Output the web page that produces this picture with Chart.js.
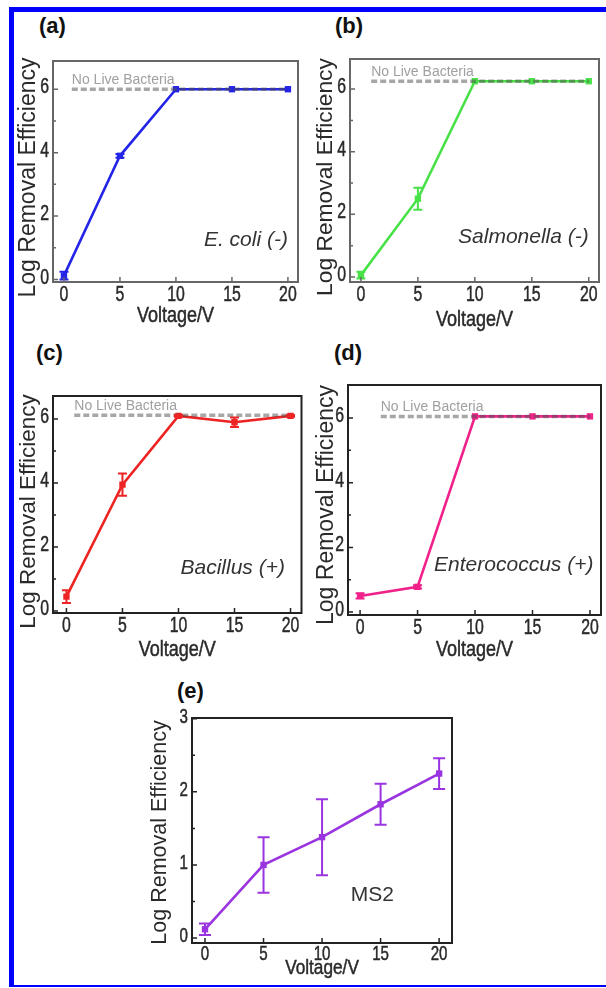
<!DOCTYPE html>
<html>
<head>
<meta charset="utf-8">
<title>Log Removal Efficiency vs Voltage</title>
<script src="https://cdn.jsdelivr.net/npm/chart.js@4.4.1/dist/chart.umd.min.js"></script>
<style>
    html, body { margin: 0; padding: 0; background: #fff; }
    body { width: 606px; height: 988px; position: relative; overflow: hidden; font-family: "Liberation Sans", Arial, sans-serif; }
    #marco {
        position: absolute; left: 9px; top: 7px; width: 620px; height: 980px; box-sizing: border-box;
        border-top: 5px solid #0000ff; border-left: 5px solid #0000ff; border-bottom: 2px solid #0000ff;
    }
    canvas { position: absolute; }
    .letra { position: absolute; font: bold 22px "Liberation Sans", Arial, sans-serif; line-height: 22px; color: #111; }
</style>
</head>
<body>
<div id="marco"></div>
<script>
// datos
const voltage = [0, 5, 10, 15, 20];

const ecoliLRE = [0.12, 3.9, 6.0, 6.0, 6.0];
const ecoliErr = [0.12, 0.06, 0, 0, 0];
const salmonellaLRE = [0.06, 2.5, 6.25, 6.25, 6.25];
const salmonellaErr = [0.11, 0.35, 0, 0, 0];
const bacillusLRE = [0.45, 3.95, 6.1, 5.9, 6.1];
const bacillusErr = [0.2, 0.35, 0.03, 0.15, 0.03];
const enterococcusLRE = [0.5, 0.78, 6.05, 6.05, 6.05];
const enterococcusErr = [0.08, 0.05, 0, 0, 0];
const ms2LRE = [0.12, 1.0, 1.38, 1.83, 2.25];
const ms2Err = [0.08, 0.38, 0.52, 0.28, 0.21];

const noLiveLevel = [6.0, 6.25, 6.12, 6.05];
const noLiveStart = [0.7, 0.9, 0.7, 1.8];
const noLiveEnd = 20;

const xTickValues = [0, 5, 10, 15, 20];
const yTicksBacteria = [0, 2, 4, 6];
const yTicksVirus = [0, 1, 2, 3];

const organisms = ['E. coli (-)', 'Salmonella (-)', 'Bacillus (+)', 'Enterococcus (+)', 'MS2'];
const panelLetters = ['(a)', '(b)', '(c)', '(d)', '(e)'];
const seriesValues = [ecoliLRE, salmonellaLRE, bacillusLRE, enterococcusLRE, ms2LRE];
const seriesErrors = [ecoliErr, salmonellaErr, bacillusErr, enterococcusErr, ms2Err];
const seriesColors = ['#2424e8', '#48e248', '#ee2424', '#f0228a', '#9a34e0'];

const SANS = "'Liberation Sans', Arial, sans-serif";

// posiciones en pixeles de pagina (canvas y area de trazado)
const layouts = [
    { canvas: [14, 46, 306, 334], area: [53, 61, 298, 282], x: [-0.98, 20.9], y: [-0.08, 6.89], yTitleX: 29, yTitleDy: 6, yTitleSize: 23,
      xTickGap: 13, xTitleGap: 34, tickSize: 22, letter: [40, 18], frame: '#666', label: [20, 1.25], italic: true, yTicks: yTicksBacteria, minorY: 1 },
    { canvas: [309, 46, 606, 334], area: [350, 59, 599, 282], x: [-0.96, 20.9], y: [-0.16, 6.96], yTitleX: 325.5, yTitleDy: 6.5, yTitleSize: 22.8,
      xTickGap: 12.5, xTitleGap: 37.5, tickSize: 22, letter: [336, 18], frame: '#666', label: [20, 1.28], italic: true, yTicks: yTicksBacteria, minorY: 1 },
    { canvas: [14, 383, 306, 668], area: [53, 396, 302, 613], x: [-1.2, 20.98], y: [-0.06, 6.72], yTitleX: 29, yTitleDy: 7, yTitleSize: 22.5,
      xTickGap: 13, xTitleGap: 37, tickSize: 22, letter: [37, 345], frame: '#222', label: [19.5, 1.34], italic: true, yTicks: yTicksBacteria, minorY: 1 },
    { canvas: [309, 372, 606, 668], area: [348, 385, 601, 615], x: [-1.05, 20.96], y: [-0.09, 7.02], yTitleX: 327, yTitleDy: 5, yTitleSize: 23,
      xTickGap: 13, xTitleGap: 35, tickSize: 22, letter: [335, 345], frame: '#222', label: [20.3, 1.45], italic: true, yTicks: yTicksBacteria, minorY: 1 },
    { canvas: [140, 705, 470, 985], area: [192, 718, 452, 943], x: [-1.11, 21.1], y: [-0.068, 3.01], yTitleX: 160, yTitleDy: 2, yTitleSize: 21.5,
      xTickGap: 11, xTitleGap: 25, tickSize: 21, letter: [178, 683], frame: '#222', label: [14.3, 0.59], italic: false, yTicks: yTicksVirus, minorY: 0.5 }
];

// texto "estrecho": la figura usa una fuente condensada que no esta instalada
function textoEstrecho(ctx, txt, x, y, size, align, escala) {
    ctx.save();
    ctx.font = size + 'px ' + SANS;
    ctx.textAlign = align;
    ctx.textBaseline = 'middle';
    ctx.translate(x, y);
    ctx.scale(escala, 1);
    ctx.fillText(txt, 0, 0);
    ctx.lineWidth = 0.5;
    ctx.strokeText(txt, 0, 0);
    ctx.restore();
}

// barras de error, marcas hacia dentro, marco y textos
const panelDecor = {
    id: 'panelDecor',
    afterDatasetsDraw(chart, args, opts) {
        const { ctx, chartArea: a, scales: { x, y } } = chart;
        ctx.save();

        chart.data.datasets.forEach(ds => {
            if (!ds.errors) return;
            ctx.strokeStyle = ds.borderColor;
            ctx.lineWidth = 2;
            ds.data.forEach((p, j) => {
                const e = ds.errors[j];
                if (!e) return;
                const px = x.getPixelForValue(p.x);
                const y1 = y.getPixelForValue(p.y + e);
                const y2 = y.getPixelForValue(p.y - e);
                ctx.beginPath();
                ctx.moveTo(px, y1); ctx.lineTo(px, y2);
                ctx.moveTo(px - opts.cap, y1); ctx.lineTo(px + opts.cap, y1);
                ctx.moveTo(px - opts.cap, y2); ctx.lineTo(px + opts.cap, y2);
                ctx.stroke();
            });
        });

        ctx.strokeStyle = opts.frame;
        ctx.lineWidth = 1.5;
        ctx.beginPath();
        x.ticks.forEach(t => {
            const px = x.getPixelForValue(t.value);
            ctx.moveTo(px, a.bottom); ctx.lineTo(px, a.bottom - 5);
        });
        for (let v = opts.yTicks[0]; v <= opts.yTicks[opts.yTicks.length - 1] + 1e-9; v += opts.minorY) {
            const py = y.getPixelForValue(v);
            const major = opts.yTicks.some(t => Math.abs(t - v) < 1e-9);
            ctx.moveTo(a.left, py); ctx.lineTo(a.left + (major ? 5 : 3), py);
        }
        ctx.stroke();

        ctx.lineWidth = 2;
        ctx.strokeRect(a.left, a.top, a.right - a.left, a.bottom - a.top);

        // etiquetas de los ejes
        ctx.fillStyle = '#2a2a2a';
        ctx.strokeStyle = '#2a2a2a';
        x.ticks.forEach(t => {
            textoEstrecho(ctx, String(t.value), x.getPixelForValue(t.value), a.bottom + opts.xTickGap, opts.tickSize, 'center', 0.72);
        });
        y.ticks.forEach(t => {
            textoEstrecho(ctx, String(t.value), a.left - 4, y.getPixelForValue(t.value) - 2, opts.tickSize, 'right', 0.72);
        });
        textoEstrecho(ctx, 'Voltage/V', (a.left + a.right) / 2, a.bottom + opts.xTitleGap, opts.tickSize, 'center', 0.82);

        // titulo vertical
        ctx.save();
        ctx.translate(opts.yTitleX, (a.top + a.bottom) / 2 + opts.yTitleDy);
        ctx.rotate(-Math.PI / 2);
        ctx.font = opts.yTitleSize + 'px ' + SANS;
        ctx.textAlign = 'center';
        ctx.textBaseline = 'middle';
        ctx.fillText('Log Removal Efficiency', 0, 0);
        ctx.restore();

        if (opts.noLive) {
            ctx.fillStyle = '#a0a0a0';
            ctx.font = '14px ' + SANS;
            ctx.textAlign = 'left';
            ctx.textBaseline = 'alphabetic';
            ctx.fillText('No Live Bacteria', x.getPixelForValue(opts.noLive.start), y.getPixelForValue(opts.noLive.level) - 5);
        }

        ctx.fillStyle = '#333';
        ctx.font = (opts.italic ? 'italic ' : '') + '21px ' + SANS;
        ctx.textAlign = opts.italic ? 'right' : 'center';
        ctx.textBaseline = 'middle';
        ctx.fillText(opts.organism, x.getPixelForValue(opts.label[0]), y.getPixelForValue(opts.label[1]));

        ctx.restore();
    }
};

function crearPanel(i) {
    const lay = layouts[i];
    const [cl, ct, cr, cb] = lay.canvas;
    const [al, at, ar, ab] = lay.area;
    const w = cr - cl, h = cb - ct;

    const canvas = document.createElement('canvas');
    canvas.width = w;
    canvas.height = h;
    canvas.style.left = cl + 'px';
    canvas.style.top = ct + 'px';
    canvas.style.width = w + 'px';
    canvas.style.height = h + 'px';
    document.body.appendChild(canvas);

    const letra = document.createElement('div');
    letra.className = 'letra';
    letra.textContent = panelLetters[i];
    letra.style.left = (lay.letter[0] - 1) + 'px';
    letra.style.top = (lay.letter[1] - 3) + 'px';
    document.body.appendChild(letra);

    const color = seriesColors[i];
    const puntos = voltage.map((v, j) => ({ x: v, y: seriesValues[i][j] }));
    const datasets = [];
    let noLive = null;
    if (i < noLiveLevel.length) {
        noLive = { start: noLiveStart[i], level: noLiveLevel[i] };
        datasets.push({
            data: [{ x: noLiveStart[i], y: noLiveLevel[i] }, { x: noLiveEnd, y: noLiveLevel[i] }],
            borderColor: 'rgba(80,80,80,0.5)',
            borderWidth: 3.5,
            borderDash: [6, 3],
            pointRadius: 0
        });
    }
    datasets.push({
        data: puntos,
        errors: seriesErrors[i],
        borderColor: color,
        backgroundColor: color,
        borderWidth: 2.6,
        pointStyle: 'rect',
        pointRadius: 4.5,
        pointBorderWidth: 0,
        tension: 0
    });

    new Chart(canvas.getContext('2d'), {
        type: 'line',
        data: { datasets: datasets },
        plugins: [panelDecor],
        options: {
            responsive: false,
            animation: false,
            layout: { padding: { left: 0, top: at - ct, right: cr - ar, bottom: 0 } },
            plugins: {
                legend: { display: false },
                tooltip: { enabled: false },
                panelDecor: {
                    cap: i === 4 ? 6 : 4.5,
                    frame: lay.frame,
                    yTicks: lay.yTicks,
                    minorY: lay.minorY,
                    tickSize: lay.tickSize,
                    xTickGap: lay.xTickGap,
                    xTitleGap: lay.xTitleGap,
                    yTitleX: lay.yTitleX - cl,
                    yTitleDy: lay.yTitleDy,
                    yTitleSize: lay.yTitleSize,
                    noLive: noLive,
                    organism: organisms[i],
                    label: lay.label,
                    italic: lay.italic
                }
            },
            scales: {
                x: {
                    type: 'linear',
                    min: lay.x[0],
                    max: lay.x[1],
                    afterBuildTicks: s => { s.ticks = xTickValues.map(v => ({ value: v })); },
                    afterFit: s => { s.height = cb - ab; },
                    grid: { display: false, drawTicks: false },
                    border: { display: false },
                    ticks: { display: false }
                },
                y: {
                    type: 'linear',
                    min: lay.y[0],
                    max: lay.y[1],
                    afterBuildTicks: s => { s.ticks = lay.yTicks.map(v => ({ value: v })); },
                    afterFit: s => { s.width = al - cl; },
                    grid: { display: false, drawTicks: false },
                    border: { display: false },
                    ticks: { display: false }
                }
            }
        }
    });
}

document.addEventListener('DOMContentLoaded', function() {
    for (let i = 0; i < layouts.length; i++) {
        crearPanel(i);
    }
});
</script>
</body>
</html>
